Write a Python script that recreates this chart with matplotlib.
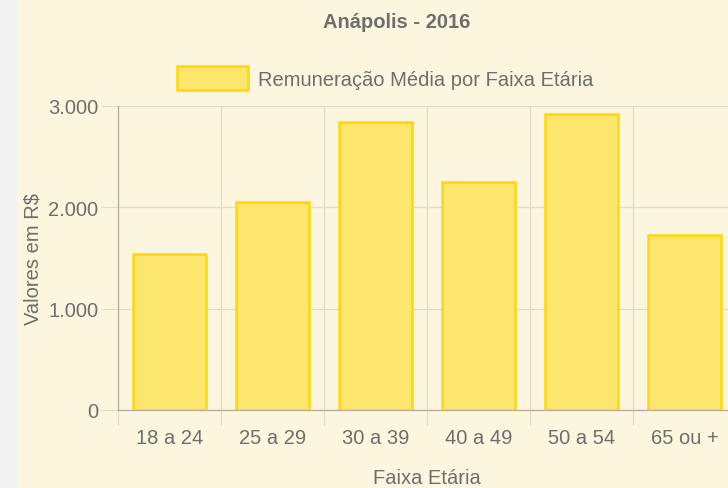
import numpy as np
import matplotlib
matplotlib.use("Agg")
import matplotlib.pyplot as plt
from matplotlib.ticker import FuncFormatter, FixedLocator
from matplotlib.patches import Rectangle

faixas = ["18 a 24", "25 a 29", "30 a 39", "40 a 49", "50 a 54", "65 ou +"]
remuneracao = [1540, 2053, 2843, 2253, 2922, 1727]
yticks = [0, 1000, 2000, 3000]

plt.rcParams['font.family'] = ['Liberation Sans', 'DejaVu Sans']
txt = '#6E6E6E'
bg = '#FDF6DF'
fill = '#FDE66E'
edge = '#FFD70F'
grid = '#E2DBC5'

W, H = 728, 489
fig = plt.figure(figsize=(W / 100, H / 100), dpi=100)
fig.patch.set_facecolor(bg)
fig.patches.append(Rectangle((0, 0), 17 / W, 1, transform=fig.transFigure,
                             facecolor='#F3F3F3', edgecolor='none', zorder=0))

# plot area runs past the right edge of the image (cropped screenshot)
left, right, top, bottom = 118, 736, 107, 411
ax = fig.add_axes([left / W, (H - bottom) / H, (right - left) / W, (bottom - top) / H])
ax.set_facecolor(bg)

x = np.arange(len(faixas))
ax.bar(x, remuneracao, width=0.71, color=fill, edgecolor=edge, linewidth=1.8,
       label='Remuneração Média por Faixa Etária', zorder=3)

ax.set_xlim(-0.5, len(faixas) - 0.5)
ax.set_ylim(0, 3000)

# category boundaries carry ticks and gridlines, labels sit at centres
ax.xaxis.set_major_locator(FixedLocator(np.arange(-0.5, len(faixas), 1.0)))
ax.xaxis.set_major_formatter(FuncFormatter(lambda v, p: ''))
ax.xaxis.set_minor_locator(FixedLocator(x))
ax.set_xticklabels(faixas, minor=True)
ax.tick_params(axis='x', which='major', length=11, width=0.8, color=grid)
ax.tick_params(axis='x', which='minor', length=0, pad=13, labelsize=14.5, labelcolor=txt)

ax.set_yticks(yticks)
ax.yaxis.set_major_formatter(FuncFormatter(lambda v, p: f'{int(v):,}'.replace(',', '.')))
ax.tick_params(axis='y', length=12, width=0.8, color=grid, pad=2, labelsize=14.5, labelcolor=txt)

ax.grid(True, which='major', color=grid, linewidth=0.9, zorder=0)
for s in ['top', 'right']:
    ax.spines[s].set_visible(False)
ax.spines['left'].set_color('#B3AD9A')
ax.spines['bottom'].set_color('#B3AD9A')
ax.spines['left'].set_linewidth(0.9)
ax.spines['bottom'].set_linewidth(0.9)

ax.set_ylabel('Valores em R$', fontsize=14.5, color=txt, labelpad=4)
ax.set_xlabel('Faixa Etária', fontsize=14.5, color=txt, labelpad=15)

fig.text(397 / W, 1 - 23 / H, 'Anápolis - 2016', ha='center', va='center',
         fontsize=14.5, fontweight='bold', color=txt)
leg = fig.legend(loc='center', bbox_to_anchor=(385 / W, 1 - 79 / H), frameon=False,
                 fontsize=14.5, handlelength=3.5, handleheight=1.4, handletextpad=0.5,
                 labelcolor=txt)

fig.savefig('out.png', dpi=100, facecolor=bg)
